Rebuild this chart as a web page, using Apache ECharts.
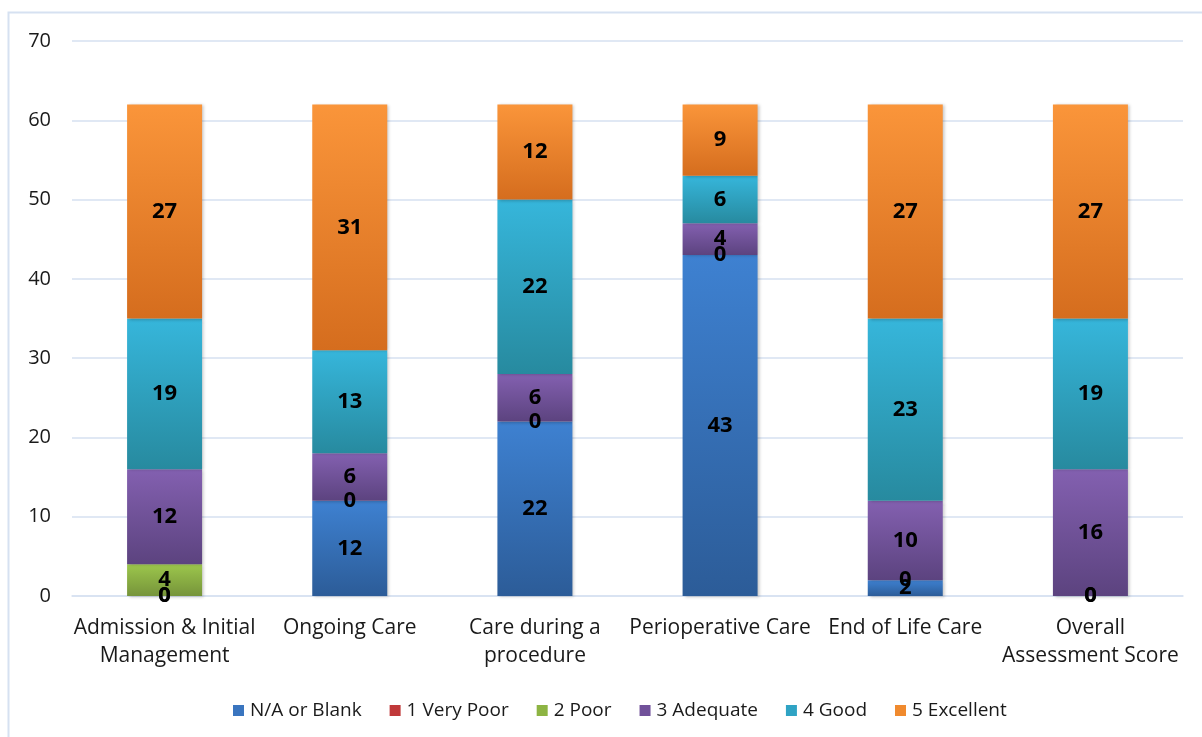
<!DOCTYPE html>
<html>
<head>
<meta charset="utf-8">
<title>Assessment Scores by Care Phase</title>
<script src="https://cdn.jsdelivr.net/npm/echarts@6/dist/echarts.min.js"></script>
<style>
  html, body { margin: 0; padding: 0; background: #ffffff; }
  #chart { width: 1202px; height: 737px; }
</style>
</head>
<body>
<div id="chart"></div>
<script>
// Care phases along the x axis
const categories = [
  'Admission & Initial\nManagement',
  'Ongoing Care',
  'Care during a\nprocedure',
  'Perioperative Care',
  'End of Life Care',
  'Overall\nAssessment Score'
];

// Counts per rating (null = no response recorded in that phase)
const naBlank   = [0, 12, 22, 43, 2, 0];
const veryPoor  = [0, 0, 0, 0, 0, 0];
const poor      = [4, null, null, null, null, null];
const adequate  = [12, 6, 6, 4, 10, 16];
const good      = [19, 13, 22, 6, 23, 19];
const excellent = [27, 31, 12, 9, 27, 27];

const yTicks = { min: 0, max: 70, interval: 10 };

const FONT = '"Open Sans", Carlito, Lato, sans-serif';

function grad(top, bottom) {
  return new echarts.graphic.LinearGradient(0, 0, 0, 1, [
    { offset: 0, color: top },
    { offset: 1, color: bottom }
  ]);
}

const seriesDefs = [
  { name: 'N/A or Blank', data: naBlank,   top: '#3E81D1', bottom: '#2C5C98', legend: '#3A75BF' },
  { name: '1 Very Poor',  data: veryPoor,  top: '#D0403C', bottom: '#A8302D', legend: '#C0393A' },
  { name: '2 Poor',       data: poor,      top: '#9CC64C', bottom: '#76943A', legend: '#8DB443' },
  { name: '3 Adequate',   data: adequate,  top: '#8360B0', bottom: '#5C437F', legend: '#71519A' },
  { name: '4 Good',       data: good,      top: '#36B6DB', bottom: '#278A9F', legend: '#2FA3C4' },
  { name: '5 Excellent',  data: excellent, top: '#FA953A', bottom: '#D56D1E', legend: '#F08A2E' }
];

const chart = echarts.init(document.getElementById('chart'), null, { renderer: 'canvas' });

chart.setOption({
  backgroundColor: '#ffffff',
  animation: false,
  textStyle: { fontFamily: FONT },
  graphic: [{
    type: 'rect',
    shape: { x: 8.5, y: 12.5, width: 1210, height: 740 },
    style: { fill: 'none', stroke: '#D6E1F1', lineWidth: 2 },
    silent: true,
    z: -1
  }],
  grid: { left: 72, right: 19, top: 41, bottom: 141, containLabel: false },
  legend: {
    bottom: 12,
    left: 228,
    icon: 'rect',
    itemWidth: 11,
    itemHeight: 11,
    itemGap: 28,
    textStyle: { fontFamily: FONT, fontSize: 19, color: '#1a1a1a', padding: [0, 0, 0, 1] },
    data: seriesDefs.map(s => ({ name: s.name, itemStyle: { color: s.legend } }))
  },
  xAxis: {
    type: 'category',
    data: categories,
    axisLine: { show: true, lineStyle: { color: '#D6E1F1', width: 1.5 } },
    axisTick: { show: false },
    axisLabel: {
      interval: 0,
      margin: 18,
      fontFamily: FONT,
      fontSize: 21,
      lineHeight: 28,
      color: '#1a1a1a'
    }
  },
  yAxis: {
    type: 'value',
    min: yTicks.min,
    max: yTicks.max,
    interval: yTicks.interval,
    axisLine: { show: false },
    axisTick: { show: false },
    splitLine: { lineStyle: { color: '#D6E1F1', width: 1.5 } },
    axisLabel: {
      margin: 21,
      fontFamily: FONT,
      fontSize: 20,
      color: '#1a1a1a'
    }
  },
  series: seriesDefs.map(s => ({
    name: s.name,
    type: 'bar',
    stack: 'total',
    barWidth: 75,
    data: s.data,
    itemStyle: {
      color: grad(s.top, s.bottom),
      shadowColor: 'rgba(0,0,0,0.22)',
      shadowBlur: 3,
      shadowOffsetX: 2,
      shadowOffsetY: 1
    },
    label: {
      show: true,
      position: 'inside',
      formatter: p => (p.value === null || p.value === undefined) ? '' : String(p.value),
      fontFamily: FONT,
      fontSize: 22,
      fontWeight: 'bold',
      color: '#000000'
    },
    labelLayout: { hideOverlap: false }
  }))
});
</script>
</body>
</html>
